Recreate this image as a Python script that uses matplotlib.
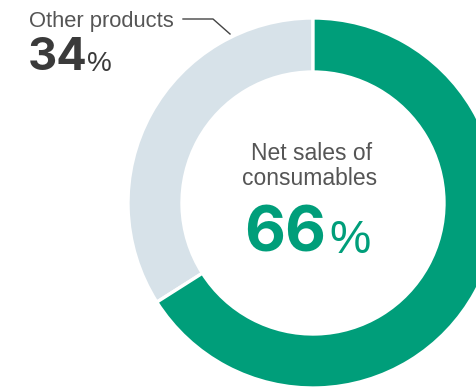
import matplotlib
matplotlib.use('Agg')
import matplotlib.pyplot as plt

# данные
labels = ["Other products", "Net sales of consumables"]
shares = [34, 66]
colors = ["#d7e2e9", "#009e7a"]

W, H = 477, 389
fig = plt.figure(figsize=(W / 100, H / 100), dpi=100)
ax = fig.add_axes([0, 0, 1, 1])
plt.rcParams['font.family'] = ['Liberation Sans', 'DejaVu Sans']
big = ['Inter', 'Liberation Sans']

# кольцо (координаты в пикселях, ось y вверх)
cx, cy = 313, H - 203
ax.pie(shares, colors=colors, startangle=90, counterclock=True,
       center=(cx, cy), radius=185,
       wedgeprops=dict(width=54, edgecolor='white', linewidth=2.4))
ax.set_xlim(0, W)
ax.set_ylim(0, H)
ax.set_aspect('equal')
ax.axis('off')

# подпись "Other products"
ax.text(29, H - 27, labels[0], fontsize=15.8, color='#555555', va='baseline', ha='left')
ax.text(28, H - 70, f"{shares[0]}", fontsize=32.5, fontweight='bold', color='#3a3a3a',
        va='baseline', ha='left', family=big)
ax.text(87, H - 71, "%", fontsize=20, color='#3a3a3a', va='baseline', ha='left')
ax.plot([183, 213, 230], [H - 19, H - 19, H - 34], color='#444444', lw=1)

# центр
ax.text(312, H - 160, "Net sales of", fontsize=16.5, color='#555555', va='baseline', ha='center')
ax.text(310, H - 185, "consumables", fontsize=16.5, color='#555555', va='baseline', ha='center')
ax.text(244, H - 252, f"{shares[1]}", fontsize=45.5, fontweight='bold', color=colors[1],
        va='baseline', ha='left', family=big)
ax.text(329, H - 253, "%", fontsize=33.5, color=colors[1], va='baseline', ha='left')

fig.savefig('out.png', dpi=100)
